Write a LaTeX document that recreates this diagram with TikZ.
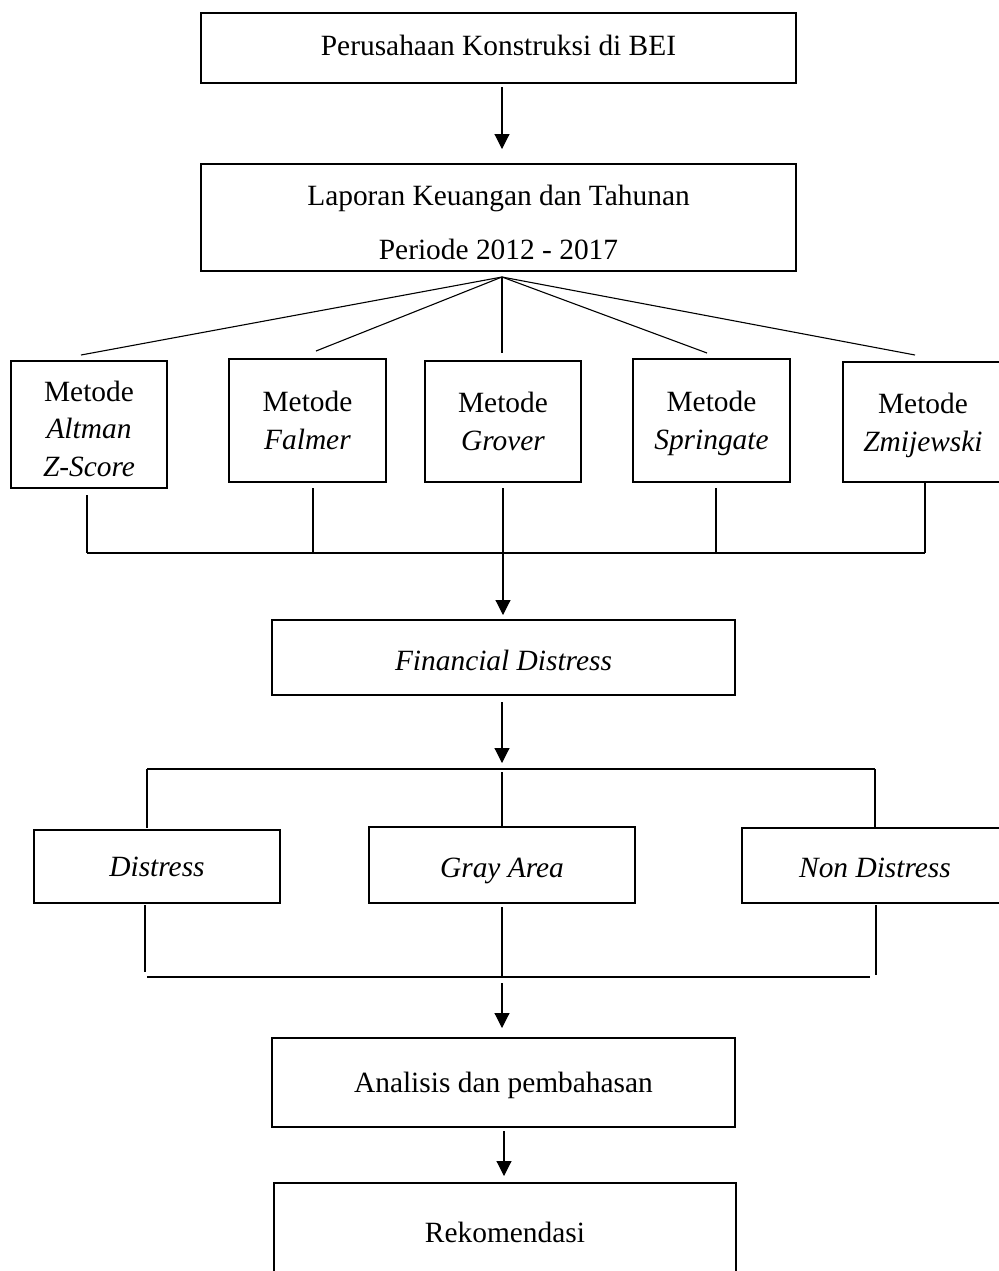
\documentclass[tikz,border=0pt]{standalone}
\usepackage{fontspec}
\setmainfont{Liberation Serif}
\usetikzlibrary{arrows.meta}
\newcommand\lowr[2]{\raisebox{-#1}[\height][\depth]{#2}}
\begin{document}
\begin{tikzpicture}[x=0.5pt,y=-0.5pt,
  box/.style={draw,line width=1pt,rectangle,inner sep=0pt,align=center,text depth=0pt,font=\fontsize{14.7}{18.8}\selectfont},
  conn/.style={line width=0.55pt},
  arr/.style={conn,-{Triangle[length=7.5pt,width=7.5pt]}}]
\useasboundingbox (0,0) rectangle (998,1271);
\fill[white] (0,0) rectangle (998,1271);
% main boxes
\node[box,text depth=3pt,minimum width=297.5pt,minimum height=35pt] (b1) at (498.5,48) {Perusahaan Konstruksi di BEI};
\node[box,minimum width=297.5pt,minimum height=53.5pt] (b2) at (498.5,217.5) {\lowr{2.25pt}{Laporan Keuangan dan Tahunan}\\[8pt]\lowr{2.25pt}{Periode 2012 - 2017}};
% method boxes
\node[box,minimum width=78pt,minimum height=63.5pt] (m1) at (89,424.5) {\lowr{2pt}{Metode}\\\lowr{2pt}{\textit{Altman}}\\\lowr{2pt}{\textit{Z-Score}}};
\node[box,minimum width=78.5pt,minimum height=61.5pt] (m2) at (307.5,420.5) {Metode\\\textit{Falmer}};
\node[box,minimum width=78pt,minimum height=60.5pt] (m3) at (503,421.5) {Metode\\\textit{Grover}};
\node[box,minimum width=78.5pt,minimum height=61.5pt] (m4) at (711.5,420.5) {Metode\\\textit{Springate}};
\node[box,minimum width=80pt,minimum height=60pt] (m5) at (923,422) {Metode\\\textit{Zmijewski}};
% financial distress
\node[box,minimum width=231.5pt,minimum height=37.5pt] (fd) at (503.5,657.5) {\lowr{1.5pt}{\textit{Financial Distress}}};
% categories
\node[box,minimum width=123pt,minimum height=36.5pt] (c1) at (157,866.5) {\textit{Distress}};
\node[box,minimum width=133pt,minimum height=38pt] (c2) at (502,865) {\lowr{1.5pt}{\textit{Gray Area}}};
\node[box,minimum width=133pt,minimum height=37.5pt] (c3) at (875,865.5) {\lowr{1pt}{\textit{Non Distress}}};
% analysis and recommendation
\node[box,minimum width=231.5pt,minimum height=44.5pt] (an) at (503.5,1082.5) {Analisis dan pembahasan};
\node[box,minimum width=231pt,minimum height=49pt] (rk) at (505,1232) {Rekomendasi};

% arrow 1
\coordinate (a1s) at (502,87);
\coordinate (a1e) at (502,149);
\draw[arr] (a1s) -- (a1e);
% fan
\coordinate (apex) at (502,277);
\coordinate (f1) at (81,355);
\coordinate (f2) at (316,351);
\coordinate (f3) at (502,353);
\coordinate (f4) at (707,353);
\coordinate (f5) at (915,355);
\foreach \f in {f1,f2,f3,f4,f5} \draw[conn] (apex) -- (\f);
% collect methods
\coordinate (g1) at (87,495);   \coordinate (h1) at (87,553);
\coordinate (g2) at (313,488);  \coordinate (h2) at (313,553);
\coordinate (g3) at (503,488);  \coordinate (h3) at (503,553);
\coordinate (g4) at (716,488);  \coordinate (h4) at (716,553);
\coordinate (g5) at (925,483);  \coordinate (h5) at (925,553);
\foreach \i in {1,...,5} \draw[conn] (g\i) -- (h\i);
\draw[conn,line width=0.8pt] (h1) -- (h5);
\coordinate (a2e) at (503,615);
\draw[arr] (h3) -- (a2e);
% financial distress to categories
\coordinate (a3s) at (502,702);
\coordinate (a3e) at (502,763);
\draw[arr] (a3s) -- (a3e);
\coordinate (k1) at (147,769); \coordinate (k3) at (875,769);
\draw[conn,line width=0.8pt] (k1) -- (k3);
\coordinate (k2) at (502,772);
\draw[conn] (k1) -- (147,828);
\draw[conn] (k2) -- (502,826);
\draw[conn] (k3) -- (875,827);
% categories collect
\coordinate (p1) at (145,905); \coordinate (q1) at (145,972);
\coordinate (p2) at (502,907); \coordinate (q2) at (502,977);
\coordinate (p3) at (876,905); \coordinate (q3) at (876,975);
\foreach \i in {1,2,3} \draw[conn] (p\i) -- (q\i);
\coordinate (r1) at (147,977); \coordinate (r3) at (870,977);
\draw[conn,line width=0.8pt] (r1) -- (r3);
\coordinate (a4s) at (502,983);
\coordinate (a4e) at (502,1028);
\draw[arr] (a4s) -- (a4e);
% analysis to recommendation
\coordinate (a5s) at (504,1131);
\coordinate (a5e) at (504,1176);
\draw[arr] (a5s) -- (a5e);
\end{tikzpicture}
\end{document}
